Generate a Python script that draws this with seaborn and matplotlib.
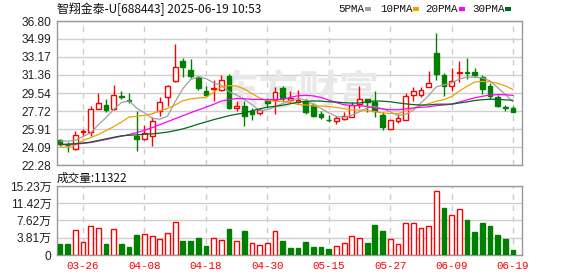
import numpy as np
import pandas as pd
import matplotlib
matplotlib.use('Agg')
import matplotlib.pyplot as plt
from matplotlib.patches import Rectangle
import seaborn as sns

# ---------------- data ----------------
title = '智翔金泰-U[688443] 2025-06-19 10:53'
dates = ['03-21', '03-24', '03-25', '03-26', '03-27', '03-28', '03-31', '04-01', '04-02', '04-03',
         '04-07', '04-08', '04-09', '04-10', '04-11', '04-14', '04-15', '04-16', '04-17', '04-18',
         '04-21', '04-22', '04-23', '04-24', '04-25', '04-28', '04-29', '04-30', '05-06', '05-07',
         '05-08', '05-09', '05-12', '05-13', '05-14', '05-15', '05-16', '05-19', '05-20', '05-21',
         '05-22', '05-23', '05-26', '05-27', '05-28', '05-29', '05-30', '06-03', '06-04', '06-05',
         '06-06', '06-09', '06-10', '06-11', '06-12', '06-13', '06-16', '06-17', '06-18', '06-19']
opens = [24.85, 24.32, 23.92, 25.60, 25.60, 27.97, 28.30, 27.90, 29.28, 28.85,
         25.25, 24.90, 25.16, 27.77, 29.17, 30.78, 32.79, 31.85, 31.18, 29.78,
         29.98, 29.84, 31.28, 28.00, 28.27, 27.77, 27.54, 28.71, 28.84, 30.01,
         28.85, 28.61, 28.71, 28.37, 27.44, 26.85, 26.67, 26.93, 27.17, 28.44,
         28.94, 28.67, 27.33, 25.93, 26.67, 26.83, 29.34, 29.34, 30.18, 33.62,
         31.38, 30.28, 31.58, 31.68, 31.62, 31.11, 30.21, 29.11, 28.10, 28.04]
highs = [24.95, 24.60, 25.66, 25.93, 28.27, 29.51, 28.91, 30.38, 29.78, 29.51,
         27.75, 26.30, 27.17, 29.17, 30.35, 34.53, 33.02, 32.95, 31.28, 30.28,
         30.85, 31.38, 31.45, 28.71, 28.71, 28.04, 28.04, 29.01, 30.11, 30.28,
         29.71, 29.84, 28.94, 28.51, 27.77, 27.33, 27.27, 27.67, 28.67, 30.21,
         28.94, 29.71, 27.60, 26.85, 27.44, 29.51, 30.11, 30.18, 31.78, 35.63,
         31.52, 32.02, 32.72, 33.02, 32.02, 31.38, 30.51, 29.38, 28.37, 28.27]
lows = [24.15, 23.60, 23.82, 25.16, 25.16, 27.97, 27.60, 27.84, 28.94, 28.51,
        23.65, 24.85, 24.16, 27.27, 28.27, 30.68, 31.18, 31.01, 29.84, 29.21,
        28.71, 29.71, 27.94, 27.70, 26.26, 26.77, 27.33, 28.10, 27.44, 28.77,
        28.77, 28.51, 27.44, 27.10, 26.93, 26.60, 26.37, 26.83, 27.10, 28.04,
        27.60, 27.17, 25.83, 25.90, 26.50, 26.77, 28.77, 29.11, 30.11, 30.85,
        29.21, 29.78, 30.61, 30.95, 31.18, 29.44, 28.94, 28.10, 27.77, 27.60]
closes = [24.38, 24.28, 25.26, 25.70, 27.94, 28.57, 27.84, 29.38, 29.15, 28.75,
          24.90, 25.50, 26.67, 28.67, 30.28, 32.18, 32.12, 31.25, 30.04, 29.38,
          30.08, 30.85, 28.04, 28.27, 27.20, 27.44, 27.84, 28.54, 29.61, 29.04,
          29.00, 28.84, 27.60, 27.27, 27.17, 26.80, 27.00, 27.20, 28.34, 28.94,
          28.67, 27.70, 26.10, 26.83, 27.03, 29.28, 29.75, 29.82, 30.51, 31.45,
          30.28, 30.78, 31.65, 31.60, 31.35, 29.94, 29.28, 28.27, 28.00, 27.67]
volumes_wan = [2.42, 2.42, 5.42, 2.78, 6.30, 5.86, 2.42, 5.64, 2.42, 1.76,
               4.39, 4.54, 4.17, 3.51, 4.76, 7.39, 3.07, 3.07, 3.73, 1.98,
               3.66, 3.22, 5.71, 3.00, 5.27, 2.56, 2.12, 2.56, 5.20, 3.07,
               1.54, 1.54, 2.86, 1.76, 1.76, 1.32, 1.98, 2.56, 4.17, 3.73,
               2.64, 6.59, 5.27, 3.51, 2.34, 7.17, 7.17, 5.93, 6.30, 14.06,
               10.32, 8.93, 10.25, 7.69, 5.05, 7.03, 6.37, 4.39, 3.51, 1.1322]
ma5_head = [24.69, 24.69, 24.76, 25.16]
ma10_head = [24.06, 24.10, 24.30, 24.75, 25.05, 25.35, 25.75, 26.15, 26.60]
ma20_head = [24.32, 24.35, 24.40, 24.45, 24.55, 24.70, 24.85, 25.02, 25.18, 25.35,
             25.55, 25.78, 26.05, 26.35, 26.65, 26.95, 27.25, 27.55, 27.83]
ma30_head = [24.36, 24.38, 24.43, 24.50, 24.59, 24.75, 24.92, 25.08, 25.22, 25.28,
             25.32, 25.38, 25.42, 25.50, 25.60, 25.75, 25.92, 26.15, 26.40, 26.62,
             26.85, 27.05, 27.25, 27.40, 27.52, 27.75, 27.95, 28.10, 28.20]
ma_windows = [5, 10, 20, 30]
ma_names = ['5PMA', '10PMA', '20PMA', '30PMA']
ma_colors = ['#a0a0a0', '#f0a000', '#ff00ff', '#006a1e']
price_ticks = [22.28, 24.09, 25.91, 27.72, 29.54, 31.36, 33.17, 34.99, 36.80]
vol_ticks = [0, 3.81, 7.62, 11.42, 15.23]
vol_tick_labels = ['0', '3.81万', '7.62万', '11.42万', '15.23万']
latest_volume = 11322
watermark = '东方财富'

RED = '#ff0000'
GREEN = '#008000'

# ---------------- figure ----------------
sns.set_theme(style='white')
plt.rcParams['font.family'] = ['Liberation Sans', 'Noto Sans CJK SC', 'DejaVu Sans']

W, H = 578, 276
fig = plt.figure(figsize=(W / 100, H / 100), dpi=100)
fig.patch.set_facecolor('white')


def rect(l, t, r, b):
    return [l / W, 1 - b / H, (r - l) / W, (b - t) / H]


ax = fig.add_axes(rect(57, 21, 522, 165))
axv = fig.add_axes(rect(57, 186, 522, 255))

n = len(closes)
idx = np.arange(n)
o = np.array(opens); h = np.array(highs); l = np.array(lows); c = np.array(closes)
up = c >= o
s = pd.Series(c)
heads = [ma5_head, ma10_head, ma20_head, ma30_head]
mas = []
for win, head in zip(ma_windows, heads):
    m = s.rolling(win).mean().to_numpy()
    m[:win - 1] = head
    mas.append(m)

tick_pos = idx[3::8]
tick_lab = [dates[i] for i in tick_pos]

for a in (ax, axv):
    a.set_facecolor('white')
    a.set_axisbelow(True)
    a.set_xlim(-0.39, n + 0.16)
    a.set_xticks(tick_pos)
    a.grid(axis='x', color='#cccccc', linestyle=(0, (4, 4)), linewidth=1)
    a.grid(axis='y', color='#d0d0d0', linestyle='-', linewidth=1)
    for sp in a.spines.values():
        sp.set_color('#999999')
        sp.set_linewidth(1)
    a.tick_params(length=0, pad=4, labelsize=8.6, colors='#222222')

# watermark
ax.text(0.52, 0.50, watermark, transform=ax.transAxes, ha='center', va='center',
        fontsize=29, color='#e8e8e8', fontweight='bold',
        family=['Noto Sans CJK SC'], zorder=0.6)

# candles
bw = 0.62
for i in idx:
    col = RED if up[i] else GREEN
    ax.vlines(i, l[i], h[i], color=col, linewidth=1, zorder=3)
    body = max(abs(c[i] - o[i]), 0.03)
    ax.bar(i, body, bottom=min(o[i], c[i]), width=bw,
           facecolor='white' if up[i] else GREEN, edgecolor=col, linewidth=1, zorder=4)

# moving averages
for m, colr in zip(mas, ma_colors):
    sns.lineplot(x=idx, y=m, ax=ax, color=colr, linewidth=0.9, zorder=5, legend=False)

ax.set_ylim(price_ticks[0], price_ticks[-1])
ax.set_yticks(price_ticks)
ax.set_yticklabels([f'{v:.2f}' for v in price_ticks])
ax.set_xticklabels([])
ax.set_xlabel(''); ax.set_ylabel('')

# volume
vol_up = np.r_[False, np.diff(c) > 0]
for i in idx:
    col = RED if vol_up[i] else GREEN
    axv.bar(i, volumes_wan[i], width=bw, facecolor='white' if vol_up[i] else GREEN,
            edgecolor=col, linewidth=1, zorder=3)
axv.set_ylim(0, vol_ticks[-1])
axv.set_yticks(vol_ticks)
axv.set_yticklabels(vol_tick_labels)
axv.set_xticklabels(tick_lab, color=RED, family=['Liberation Mono'], fontsize=7.8)

# texts
cjk = ['Noto Sans CJK SC', 'DejaVu Sans']
fig.text(57 / W, 1 - 9.5 / H, title, ha='left', va='center', fontsize=8.6, family=cjk, color='#111111')
fig.text(57 / W, 1 - 178 / H, f'成交量:{latest_volume}', ha='left', va='center', fontsize=8.4,
         family=cjk, color='#111111')

leg_text_x = [338, 380, 425, 472]
leg_sq_x = [365, 413, 459, 505]
for name, colr, tx, sx in zip(ma_names, ma_colors, leg_text_x, leg_sq_x):
    fig.text(tx / W, 1 - 9.5 / H, name, ha='left', va='center', fontsize=7.8,
             family=['Liberation Mono'], color='#111111')
    fig.patches.append(Rectangle((sx / W, 1 - 11 / H), 6 / W, 4 / H, transform=fig.transFigure,
                                 facecolor=colr, edgecolor='none'))

fig.savefig('out.png', dpi=100, facecolor='white')
